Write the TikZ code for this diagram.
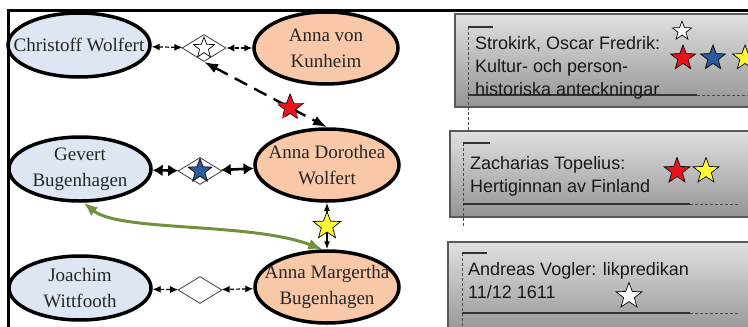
\documentclass[tikz,border=0pt]{standalone}
\usepackage{fontspec}
\usetikzlibrary{shapes.geometric, arrows.meta, positioning}
\newfontfamily\personfont{Liberation Serif}
\newfontfamily\sourcefont{Liberation Sans}
\definecolor{personblue}{RGB}{222,230,243}
\definecolor{personorange}{RGB}{248,200,168}
\definecolor{linkgreen}{RGB}{112,146,62}
\definecolor{starred}{RGB}{232,20,27}
\definecolor{starblue}{RGB}{43,92,158}
\definecolor{staryellow}{RGB}{255,250,50}

\tikzset{
  person/.style={ellipse, draw, line width=3.5pt, minimum width=142pt, minimum height=64pt, inner sep=0pt},
  man/.style={person, fill=personblue},
  woman/.style={person, fill=personorange, minimum width=144pt, minimum height=72pt},
  personname/.style={align=center, inner sep=0pt, text=black!85, font=\personfont\fontsize{19}{26}\selectfont},
  union/.style={diamond, draw=black!75, line width=0.8pt, fill=white, minimum width=44pt, minimum height=27pt, inner sep=0pt},
  ratingstar/.style={star, star points=5, star point ratio=2.4, draw, line width=0.7pt, inner sep=0pt, minimum size=#1},
  couple/.style={line width=1.2pt, dash pattern=on 4pt off 2pt, {Latex[length=8pt,width=7pt]}-{Latex[length=8pt,width=7pt]}},
  heavy/.style={line width=2.6pt, {Latex[length=10pt,width=12pt]}-{Latex[length=10pt,width=12pt]}},
  parentlink/.style={line width=2.4pt, dash pattern=on 14pt off 8pt, {Latex[length=14pt,width=10pt]}-{Latex[length=14pt,width=10pt]}},
  thinlink/.style={line width=1.2pt, {Latex[length=8pt,width=6pt]}-{Latex[length=8pt,width=6pt]}},
  childlink/.style={line width=3pt, draw=linkgreen, {Latex[length=14pt,width=11pt]}-{Latex[length=14pt,width=11pt]}},
  sourcebox/.style={top color=black!12, bottom color=black!42, draw=black!65, line width=1.5pt},
  guide/.style={black!70, line width=1pt, dash pattern=on 3pt off 2pt},
  rule/.style={black!80, line width=1.2pt},
  source/.style={anchor=north west, align=left, inner sep=0pt, text=black!90, font=\sourcefont\fontsize{18}{23}\selectfont}
}

\begin{document}
\begin{tikzpicture}[x=1pt, y=-1pt]
  \useasboundingbox (0,0) rectangle (748,327);
  \clip (0,0) rectangle (748,327);
  \fill[white] (0,0) rectangle (748,327);

  % frame of the screenshot
  \draw[line width=3pt] (8,340) -- (8,10) -- (760,10);

  % persons
  \node[man] (chris) at (79,45) {};
  \node[woman] (kun) at (326,48) {};
  \node[man] (gevert) at (80,169) {};
  \node[woman] (doro) at (327,165) {};
  \node[man] (joach) at (80,288) {};
  \node[woman] (marg) at (327,287) {};
  \node[personname] (chris-t) at (chris) {Christoff Wolfert};
  \node[personname] (kun-t) at (kun) {Anna von\\Kunheim};
  \node[personname] (gevert-t) at (gevert) {Gevert\\Bugenhagen};
  \node[personname] (doro-t) at (doro) {Anna Dorothea\\Wolfert};
  \node[personname] (joach-t) at (joach) {Joachim\\Wittfooth};
  \node[personname] (marg-t) at (marg) {Anna Margertha\\Bugenhagen};

  % marriages
  \node[union] (dtop) at (204,48) {};
  \node[union] (dmid) at (200,171) {};
  \node[union] (dbot) at (200,290) {};
  \node[ratingstar=22pt, fill=white] (s-top) at (dtop) {};
  \node[ratingstar=25pt, fill=starblue] (s-mid) at (dmid) {};

  \draw[couple] (chris) -- (dtop);
  \draw[couple] (kun) -- (dtop);
  \draw[heavy] (gevert) -- (dmid);
  \draw[heavy] (doro) -- (dmid);
  \draw[couple] (joach) -- (dbot);
  \draw[couple] (marg) -- (dbot);

  % children
  \draw[parentlink] (dtop.south) -- (doro.north)
    node[pos=0.7, ratingstar=28pt, fill=starred] (s-red) {};
  \draw[thinlink] (doro) -- (marg)
    node[midway, ratingstar=29pt, fill=staryellow] (s-yellow) {};
  \draw[childlink] (gevert.-84) .. controls (120,232) and (250,222) .. (marg.97);

  % sources
  \shade[sourcebox] (455,14) rectangle (760,107);
  \draw[guide] (468,27) -- (468,131);
  \draw[rule] (468,27) -- (493,27);
  \draw[rule] (468,95) -- (697,95);
  \draw[guide] (697,95) -- (748,95);
  \node[source] (strokirk) at (475,36) {Strokirk, Oscar Fredrik:\\Kultur- och person-\\historiska anteckningar};
  \node[ratingstar=20pt, fill=white] (s1-white) at (682,31) {};
  \node[ratingstar=26pt, fill=starred] (s1-red) at (683,58) {};
  \node[ratingstar=26pt, fill=starblue] (s1-blue) at (713,58) {};
  \node[ratingstar=26pt, fill=staryellow] (s1-yellow) at (745,58) {};

  \shade[sourcebox] (450,131) rectangle (760,217);
  \draw[guide] (463,143) -- (463,226);
  \draw[rule] (463,143) -- (490,143);
  \draw[rule] (463,204) -- (690,204);
  \draw[guide] (690,204) -- (740,204);
  \node[source] (topelius) at (470,156) {Zacharias Topelius:\\Hertiginnan av Finland};
  \node[ratingstar=27pt, fill=starred] (s2-red) at (677,171) {};
  \node[ratingstar=27pt, fill=staryellow] (s2-yellow) at (706,171) {};

  \shade[sourcebox] (448,242) rectangle (760,335);
  \draw[guide] (462,253) -- (462,335);
  \draw[rule] (462,253) -- (487,253);
  \draw[rule] (462,313) -- (690,313);
  \draw[guide] (690,313) -- (740,313);
  \node[source] (vogler) at (468,262) {Andreas Vogler: likpredikan\\11/12 1611};
  \node[ratingstar=27pt, fill=white] (s3-white) at (629,296) {};
\end{tikzpicture}
\end{document}
